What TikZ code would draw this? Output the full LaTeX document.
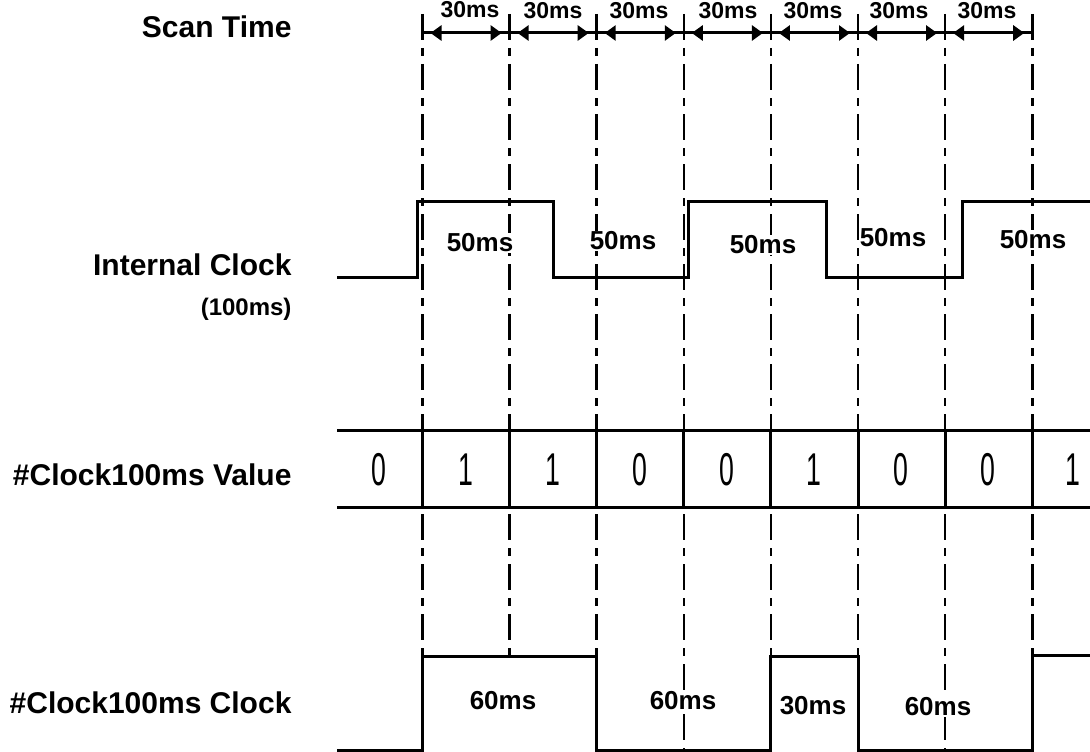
\documentclass[tikz,border=0pt]{standalone}
\usepackage{fontspec}
\setmainfont{Liberation Sans}
\usetikzlibrary{positioning,arrows.meta}

\begin{document}
\begin{tikzpicture}[x=1pt,y=-1pt,line width=3pt,
	lbl/.style={anchor=east,inner sep=0pt,font=\fontsize{30}{32}\selectfont\bfseries},
	ms/.style={fill=white,inner sep=1pt,font=\fontsize{26}{28}\selectfont\bfseries},
	scan/.style={fill=white,inner sep=0pt,font=\fontsize{23}{25}\selectfont\bfseries},
	bit/.style={xscale=0.58,inner sep=0pt,font=\fontsize{46}{48}\selectfont},
	timeline/.style={line width=2.6pt,dash pattern=on 26pt off 8pt on 8pt off 8pt},
	scanarrow/.style={{Triangle[length=11pt,width=15pt]}-{Triangle[length=11pt,width=15pt]},shorten <=8pt,shorten >=8pt}]

		\useasboundingbox (0,0) rectangle (1090,752);

		%row names
		\node[lbl] (nscan) at (293,27) {Scan Time};
		\node[lbl] (nint) at (293,265) {Internal Clock};
		\node[lbl,font=\fontsize{24}{26}\selectfont\bfseries] (nint2) at (293,309) {(100ms)};
		\node[lbl] (nval) at (293,475) {\#Clock100ms Value};
		\node[lbl] (nclk) at (293,703) {\#Clock100ms Clock};

		%time lines
		\draw[timeline] (422.5,14) -- (422.5,656);
		\draw[timeline] (509.6,14) -- (509.6,656);
		\draw[timeline] (596.7,14) -- (596.7,656);
		\draw[timeline] (683.8,14) -- (683.8,750);
		\draw[timeline] (770.9,14) -- (770.9,656);
		\draw[timeline] (858,14) -- (858,656);
		\draw[timeline] (945.1,14) -- (945.1,750);
		\draw[timeline] (1032.2,14) -- (1032.2,656);

		%scan time
		\coordinate (t0) at (422.5,33);
		\coordinate (t1) at (509.6,33);
		\coordinate (t2) at (596.7,33);
		\coordinate (t3) at (683.8,33);
		\coordinate (t4) at (770.9,33);
		\coordinate (t5) at (858,33);
		\coordinate (t6) at (945.1,33);
		\coordinate (t7) at (1032.2,33);
		\draw (t0) -- (t7);
		\draw[scanarrow] (t0) -- (t1);
		\draw[scanarrow] (t1) -- (t2);
		\draw[scanarrow] (t2) -- (t3);
		\draw[scanarrow] (t3) -- (t4);
		\draw[scanarrow] (t4) -- (t5);
		\draw[scanarrow] (t5) -- (t6);
		\draw[scanarrow] (t6) -- (t7);
		\node[scan] (s1) at (470,10) {30ms};
		\node[scan] (s2) at (553,11) {30ms};
		\node[scan] (s3) at (639,11) {30ms};
		\node[scan] (s4) at (728,11) {30ms};
		\node[scan] (s5) at (813,11) {30ms};
		\node[scan] (s6) at (899,11) {30ms};
		\node[scan] (s7) at (987,11) {30ms};

		%internal clock
		\draw (337,277) -- (417,277) -- (417,201) -- (553,201) -- (553,277) -- (688,277) -- (688,201)
			-- (826,201) -- (826,277) -- (962,277) -- (962,201) -- (1090,201);
		\node[ms] (i1) at (480,243) {50ms};
		\node[ms] (i2) at (623,241) {50ms};
		\node[ms] (i3) at (763,245) {50ms};
		\node[ms] (i4) at (893,238) {50ms};
		\node[ms] (i5) at (1033,240) {50ms};

		%value row
		\draw (337,430) -- (1090,430);
		\draw (337,507) -- (1090,507);
		\draw (422.5,430) -- (422.5,507) (509.6,430) -- (509.6,507) (596.7,430) -- (596.7,507)
			(683.8,430) -- (683.8,507) (770.9,430) -- (770.9,507) (858,430) -- (858,507)
			(945.1,430) -- (945.1,507) (1032.2,430) -- (1032.2,507);
		\node[bit] (v0) at (379,470) {0};
		\node[bit] (v1) at (466,470) {1};
		\node[bit] (v2) at (553,470) {1};
		\node[bit] (v3) at (640,470) {0};
		\node[bit] (v4) at (727,470) {0};
		\node[bit] (v5) at (814,470) {1};
		\node[bit] (v6) at (901,470) {0};
		\node[bit] (v7) at (988,470) {0};
		\node[bit] (v8) at (1073,470) {1};

		%clock row
		\draw (337,750) -- (422.5,750) -- (422.5,656) -- (596.7,656) -- (596.7,750) -- (770.9,750) -- (770.9,656)
			-- (858,656) -- (858,750) -- (1032.2,750) -- (1032.2,655) -- (1090,655);
		\node[ms] (k1) at (503,701) {60ms};
		\node[ms] (k2) at (683,701) {60ms};
		\node[ms] (k3) at (813,706) {30ms};
		\node[ms] (k4) at (938,707) {60ms};

\end{tikzpicture}
\end{document}
